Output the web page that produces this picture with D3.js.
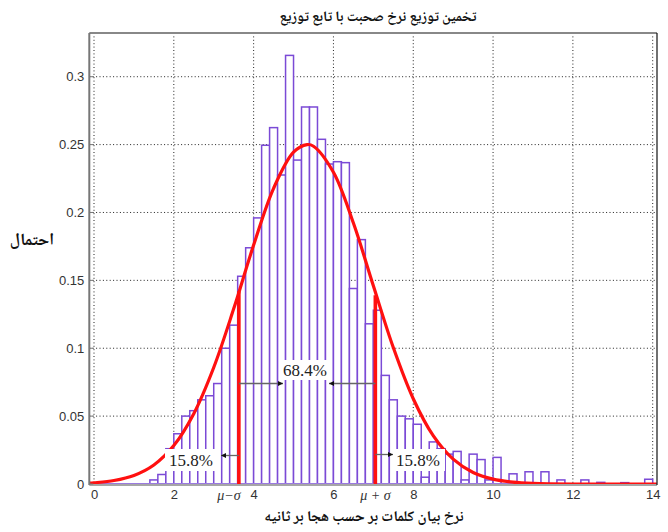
<!DOCTYPE html>
<html>
<head>
<meta charset="utf-8">
<script src="https://cdn.jsdelivr.net/npm/d3@7"></script>
<style>
  body { margin: 0; background: #fff; }
  svg { display: block; }
</style>
</head>
<body>
<svg id="chart" width="668" height="532"></svg>
<script>
// ---- data ----
const binWidth = 0.2;
const binStarts = [1.4,1.6,1.8,2.0,2.2,2.4,2.6,2.8,3.0,3.2,3.4,3.6,3.8,4.0,4.2,4.4,4.6,4.8,5.0,5.2,5.4,5.6,5.8,6.0,6.2,6.4,6.6,6.8,7.0,7.2,7.4,7.6,7.8,8.0,8.2,8.4,8.6,8.8,9.0,9.2,9.4,9.6,9.8,10.0,10.2,10.4,10.6,10.8,11.0,11.2,11.4,11.6,11.8,12.0,12.2,12.4,12.6,12.8,13.0,13.2,13.4,13.6,13.8];
const binProb = [0.003,0.007,0.026,0.037,0.050,0.054,0.062,0.065,0.074,0.100,0.117,0.153,0.174,0.196,0.2495,0.2625,0.2276,0.3157,0.2386,0.2777,0.2777,0.2539,0.2357,0.2374,0.2367,0.144,0.180,0.118,0.128,0.080,0.062,0.050,0.048,0.044,0.005,0.031,0.026,0.022,0.024,0.003,0.022,0.018,0.003,0.0196,0,0.0075,0,0.009,0,0.009,0,0.003,0,0,0.003,0,0.0012,0,0,0.001,0,0,0.0035];

// fitted distribution curve
const curveX = [-0.12,0,0.5,1,1.5,2,2.5,3,3.5,4,4.5,5,5.34,5.5,6,6.5,7,7.5,8,8.5,9,9.5,10,10.5,11,12,13,14.1];
const curveY = [0.0006,0.0009,0.0026,0.0063,0.014,0.0283,0.0518,0.0858,0.129,0.176,0.2178,0.2444,0.25,0.2488,0.2296,0.1922,0.146,0.1005,0.0628,0.0356,0.0183,0.0085,0.0036,0.0014,0.0005,0,0,0];

// mu - sigma and mu + sigma markers
const markerX = [3.63, 7.05];
const markerTop = [0.142, 0.139];
const markerLabels = ["\u03BC\u2212\u03C3", "\u03BC + \u03C3"];

const xTicks = [0,2,4,6,8,10,12,14];
const yTicks = [0,0.05,0.1,0.15,0.2,0.25,0.3];

const titleText = "تخمین توزیع نرخ صحبت با تابع توزیع";
const xTitle = "نرخ بیان کلمات بر حسب هجا بر ثانیه";
const yTitle = "احتمال";
const tailLabel = "15.8%";
const centerLabel = "68.4%";

// ---- drawing ----
const svg = d3.select("#chart");
const L = 89.3, R = 657, T = 33, B = 484;
const x = d3.scaleLinear().domain([-0.118, 14.108]).range([L, R]);
const y = d3.scaleLinear().domain([0, 0.3322]).range([B, T]);

const defs = svg.append("defs");
defs.append("clipPath").attr("id", "plotclip")
  .append("rect").attr("x", L).attr("y", T).attr("width", R - L).attr("height", B - T);
defs.append("marker").attr("id", "ah")
  .attr("viewBox", "0 0 10 10").attr("refX", 10).attr("refY", 5)
  .attr("markerWidth", 7).attr("markerHeight", 5).attr("markerUnits", "userSpaceOnUse")
  .attr("orient", "auto")
  .append("path").attr("d", "M0,0 L10,5 L0,10 Z").attr("fill", "#111");

// grid
const grid = svg.append("g");
grid.selectAll("line.vg").data(xTicks).join("line")
  .attr("x1", d => x(d)).attr("x2", d => x(d)).attr("y1", T).attr("y2", B)
  .attr("stroke", "#222").attr("stroke-width", 1).attr("stroke-dasharray", "1,2.4");
grid.selectAll("line.hg").data(yTicks.filter(d => d > 0)).join("line")
  .attr("x1", L).attr("x2", R).attr("y1", d => y(d)).attr("y2", d => y(d))
  .attr("stroke", "#222").attr("stroke-width", 1).attr("stroke-dasharray", "1,2.4");

const plot = svg.append("g").attr("clip-path", "url(#plotclip)");

// histogram bars
plot.selectAll("rect.bar").data(binStarts).join("rect")
  .attr("x", (d) => x(d))
  .attr("width", d => x(d + binWidth) - x(d))
  .attr("y", (d, i) => y(binProb[i]))
  .attr("height", (d, i) => y(0) - y(binProb[i]))
  .attr("fill", "#fff")
  .attr("stroke", "#7b4ad6").attr("stroke-width", 1.5);

// baseline of bars
plot.append("line").attr("x1", x(0)).attr("x2", R).attr("y1", y(0)).attr("y2", y(0))
  .attr("stroke", "#9b7be0").attr("stroke-width", 2);

// label boxes (white, cover bars)
const boxes = [
  {cx: 191, cy: 460, w: 52, h: 22, t: tailLabel},
  {cx: 418, cy: 460, w: 54, h: 22, t: tailLabel},
  {cx: 305, cy: 370, w: 50, h: 20, t: centerLabel}
];
svg.selectAll("rect.box").data(boxes).join("rect")
  .attr("x", d => d.cx - d.w / 2).attr("y", d => d.cy - d.h / 2)
  .attr("width", d => d.w).attr("height", d => d.h).attr("fill", "#fff");
svg.selectAll("text.box").data(boxes).join("text")
  .attr("x", d => d.cx).attr("y", d => d.cy + 6)
  .attr("text-anchor", "middle")
  .attr("font-family", "'Liberation Serif', 'Times New Roman', serif")
  .attr("font-size", 17).attr("fill", "#222")
  .text(d => d.t);

// arrows
const arrows = [
  {x1: x(markerX[0]), x2: 221, yv: 455.5},
  {x1: x(markerX[1]), x2: 393, yv: 454.5},
  {x1: x(markerX[0]), x2: 283, yv: 383.5},
  {x1: x(markerX[1]), x2: 329, yv: 383.5}
];
svg.selectAll("line.arr").data(arrows).join("line")
  .attr("x1", d => d.x1).attr("x2", d => d.x2)
  .attr("y1", d => d.yv).attr("y2", d => d.yv)
  .attr("stroke", "#666").attr("stroke-width", 1.3)
  .attr("marker-end", "url(#ah)");

// red curve
const line = d3.line().x((d, i) => x(curveX[i])).y(d => y(d)).curve(d3.curveCatmullRom);
plot.append("path").datum(curveY).attr("d", line)
  .attr("fill", "none").attr("stroke", "#ff1010").attr("stroke-width", 3.2);

// red marker lines
plot.selectAll("line.mk").data(markerX).join("line")
  .attr("x1", d => x(d)).attr("x2", d => x(d))
  .attr("y1", y(0)).attr("y2", (d, i) => y(markerTop[i]))
  .attr("stroke", "#ff1010").attr("stroke-width", 3.6);

// frame
svg.append("line").attr("x1", L).attr("x2", R).attr("y1", T).attr("y2", T).attr("stroke", "#888").attr("stroke-width", 2);
svg.append("line").attr("x1", L).attr("x2", L).attr("y1", T).attr("y2", B + 1).attr("stroke", "#777").attr("stroke-width", 2);
svg.append("line").attr("x1", L).attr("x2", R).attr("y1", B + 1).attr("y2", B + 1).attr("stroke", "#888").attr("stroke-width", 1.5);
svg.append("line").attr("x1", R).attr("x2", R).attr("y1", T).attr("y2", B + 1).attr("stroke", "#111").attr("stroke-width", 1.2);

// y ticks
const yAxis = d3.axisLeft(y).tickValues(yTicks).tickSize(0).tickPadding(5)
  .tickFormat(d => d === 0 ? "0" : d3.format("")(+d.toFixed(2)));
const gy = svg.append("g").attr("transform", `translate(${L},0)`).call(yAxis);
gy.select(".domain").remove();
gy.selectAll("text").attr("font-family", "'Liberation Sans', Arial, sans-serif")
  .attr("font-size", 13).attr("fill", "#333");
svg.selectAll("line.yt").data(yTicks).join("line")
  .attr("x1", L).attr("x2", L + 4).attr("y1", d => y(d)).attr("y2", d => y(d))
  .attr("stroke", "#777");

// x ticks
const xAxis = d3.axisBottom(x).tickValues(xTicks).tickSize(0).tickPadding(6).tickFormat(d3.format("d"));
const gx = svg.append("g").attr("transform", `translate(0,${B})`).call(xAxis);
gx.select(".domain").remove();
gx.selectAll("text").attr("font-family", "'Liberation Sans', Arial, sans-serif")
  .attr("font-size", 13).attr("fill", "#333");

// mu +/- sigma labels
const mlx = [229, 375.5];
svg.selectAll("text.ml").data(markerLabels).join("text")
  .attr("x", (d, i) => mlx[i]).attr("y", 500)
  .attr("text-anchor", "middle")
  .attr("font-family", "'Liberation Serif', 'Times New Roman', serif")
  .attr("font-style", "italic").attr("font-size", 14).attr("fill", "#333")
  .text(d => d);

// titles
const arabicFont = "'Noto Naskh Arabic', 'DejaVu Sans', sans-serif";
svg.append("text").attr("x", 378).attr("y", 21).attr("text-anchor", "middle")
  .attr("font-family", arabicFont).attr("font-weight", "bold").attr("font-size", 14.5)
  .attr("fill", "#111").attr("direction", "rtl").text(titleText);
svg.append("text").attr("x", 364).attr("y", 521).attr("text-anchor", "middle")
  .attr("font-family", arabicFont).attr("font-weight", "bold").attr("font-size", 15)
  .attr("fill", "#111").attr("direction", "rtl").text(xTitle);
svg.append("text").attr("x", 32).attr("y", 245).attr("text-anchor", "middle")
  .attr("font-family", arabicFont).attr("font-weight", "bold").attr("font-size", 17)
  .attr("fill", "#111").attr("direction", "rtl").text(yTitle);
</script>
</body>
</html>
